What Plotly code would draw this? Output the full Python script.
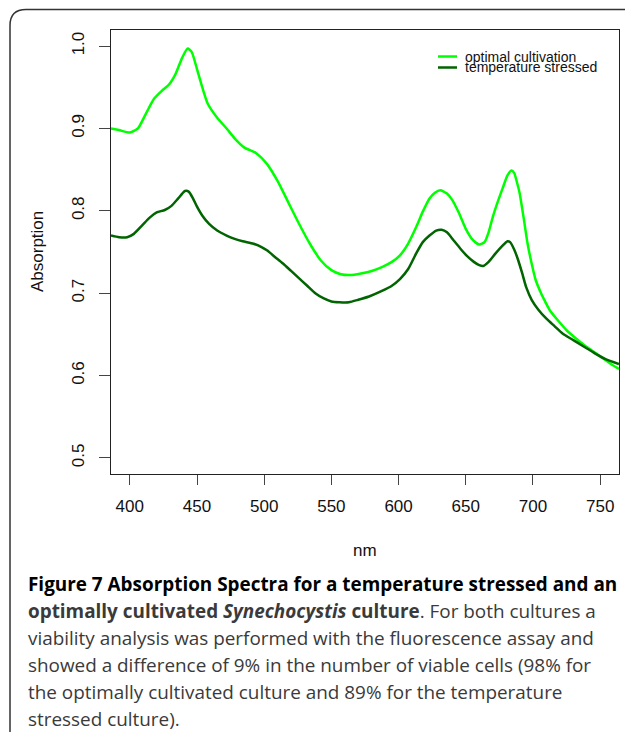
import plotly.graph_objects as go

# Absorption spectra (wavelength in nm, absorption)
nm_optimal = [386, 392, 400, 406, 412, 418, 424, 429, 434, 439, 443, 446, 450, 453,
              458, 465, 472, 478, 485, 494, 502, 510, 518, 526, 534, 542, 550, 557,
              564, 572, 580, 588, 595, 601, 607, 613, 618, 623, 627, 631, 636, 640,
              645, 650, 655, 660, 664, 667, 670, 674, 678, 681, 684, 686, 688, 690,
              693, 696, 699, 702, 706, 709, 713, 718, 725, 732, 739, 746, 752, 758, 764]
abs_optimal = [0.900, 0.898, 0.895, 0.900, 0.918, 0.936, 0.946, 0.953, 0.966, 0.986,
               0.997, 0.993, 0.972, 0.955, 0.930, 0.913, 0.900, 0.888, 0.877, 0.870,
               0.857, 0.836, 0.810, 0.784, 0.760, 0.740, 0.728, 0.723, 0.722, 0.724,
               0.727, 0.732, 0.738, 0.746, 0.760, 0.780, 0.799, 0.815, 0.822, 0.825,
               0.821, 0.813, 0.797, 0.778, 0.765, 0.759, 0.762, 0.774, 0.792, 0.812,
               0.830, 0.843, 0.849, 0.846, 0.835, 0.822, 0.792, 0.760, 0.736, 0.716,
               0.700, 0.690, 0.678, 0.668, 0.655, 0.645, 0.636, 0.628, 0.621, 0.614, 0.608]

nm_stressed = [386, 392, 398, 403, 409, 415, 420, 426, 431, 436, 441, 444, 447, 450,
               454, 459, 465, 472, 478, 484, 492, 498, 502, 508, 514, 520, 526, 532,
               538, 544, 550, 556, 563, 570, 578, 588, 595, 601, 607, 613, 618, 623,
               628, 632, 636, 641, 646, 651, 656, 660, 663, 667, 672, 677, 681, 683,
               686, 689, 692, 695, 699, 704, 710, 716, 722, 730, 738, 746, 754, 764]
abs_stressed = [0.770, 0.768, 0.768, 0.772, 0.782, 0.792, 0.798, 0.801, 0.806, 0.815,
                0.824, 0.823, 0.815, 0.805, 0.794, 0.784, 0.776, 0.770, 0.766, 0.763,
                0.760, 0.756, 0.752, 0.744, 0.736, 0.727, 0.718, 0.709, 0.700, 0.694,
                0.690, 0.689, 0.689, 0.692, 0.696, 0.703, 0.709, 0.717, 0.729, 0.748,
                0.762, 0.770, 0.776, 0.777, 0.774, 0.764, 0.754, 0.745, 0.738, 0.734,
                0.733, 0.738, 0.748, 0.757, 0.763, 0.762, 0.753, 0.740, 0.724, 0.707,
                0.692, 0.680, 0.669, 0.660, 0.651, 0.643, 0.635, 0.627, 0.620, 0.614]

series_names = ["optimal cultivation", "temperature stressed"]
series_colors = ["#00FF00", "#006400"]

x_ticks = [400, 450, 500, 550, 600, 650, 700, 750]
y_ticks = [0.5, 0.6, 0.7, 0.8, 0.9, 1.0]

caption_lines = [
    "<b>Figure 7 Absorption Spectra for a temperature stressed and an</b>",
    "<b>optimally cultivated <i>Synechocystis</i> culture</b>. For both cultures a",
    "viability analysis was performed with the fluorescence assay and",
    "showed a difference of 9% in the number of viable cells (98% for",
    "the optimally cultivated culture and 89% for the temperature",
    "stressed culture).",
]

# page geometry (pixels)
W, H = 625, 732
ML, MR, MT, MB = 111, 6, 30, 258
PW, PH = W - ML - MR, H - MT - MB


def px(x):
    return (x - ML) / PW


def py(y):
    return 1 - (y - MT) / PH


fig = go.Figure()
for xs, ys, name, color in [(nm_optimal, abs_optimal, series_names[0], series_colors[0]),
                            (nm_stressed, abs_stressed, series_names[1], series_colors[1])]:
    fig.add_trace(go.Scatter(x=xs, y=ys, mode="lines", name=name,
                             line=dict(color=color, width=2.5, shape="spline", smoothing=0.6),
                             showlegend=False))

axis_font = dict(family="Liberation Sans, Arial, sans-serif", size=17, color="#111")

fig.update_xaxes(range=[386, 764], tickvals=x_ticks, ticks="outside", ticklen=10,
                 tickwidth=1.2, tickcolor="#444", showline=True, linecolor="#222",
                 linewidth=1.4, mirror=True, showgrid=False, zeroline=False,
                 tickfont=axis_font, ticklabelstandoff=6)
fig.update_yaxes(range=[0.4805, 1.0195], tickvals=y_ticks, tickformat=".1f",
                 ticks="outside", ticklen=11, tickwidth=1.2, tickcolor="#444",
                 showline=True, linecolor="#222", linewidth=1.4, mirror=True,
                 showgrid=False, zeroline=False, tickangle=-90, tickfont=axis_font,
                 ticklabelstandoff=8)

annotations = [
    dict(text="Absorption", x=px(37), y=py(252), textangle=-90, font=axis_font),
    dict(text="nm", x=px(365), y=py(550), font=axis_font),
]
# legend labels
legend_font = dict(family="Liberation Sans, Arial, sans-serif", size=14, color="#111")
for name, yy in zip(series_names, [56.5, 67.5]):
    annotations.append(dict(text=name, x=px(463), y=py(yy), xanchor="left",
                            font=legend_font))
# caption
for i, line in enumerate(caption_lines):
    color = "#000" if i == 0 else "#3a3a3a"
    annotations.append(dict(text=line, x=px(26), y=py(584 + 27 * i), xanchor="left",
                            align="left",
                            font=dict(family="Open Sans, sans-serif", size=18.9, color=color)))
for a in annotations:
    a.setdefault("xanchor", "center")
    a.update(xref="paper", yref="paper", yanchor="middle", showarrow=False)

shapes = []
for color, yy in zip(series_colors, [56.5, 67.5]):
    shapes.append(dict(type="line", xref="paper", yref="paper", x0=px(438), x1=px(457),
                       y0=py(yy), y1=py(yy), line=dict(color=color, width=2.5)))
# outer frame with rounded top-left corner
r = 16
frame = (f"M {px(10)} {py(760)} L {px(10)} {py(9.5 + r)} "
         f"Q {px(10)} {py(9.5)} {px(10 + r)} {py(9.5)} L {px(660)} {py(9.5)}")
shapes.append(dict(type="path", xref="paper", yref="paper", path=frame,
                   line=dict(color="#333", width=1.5)))

fig.update_layout(width=W, height=H, margin=dict(l=ML, r=MR, t=MT, b=MB),
                  paper_bgcolor="white", plot_bgcolor="white",
                  annotations=annotations, shapes=shapes)

fig.write_html("out.html")
